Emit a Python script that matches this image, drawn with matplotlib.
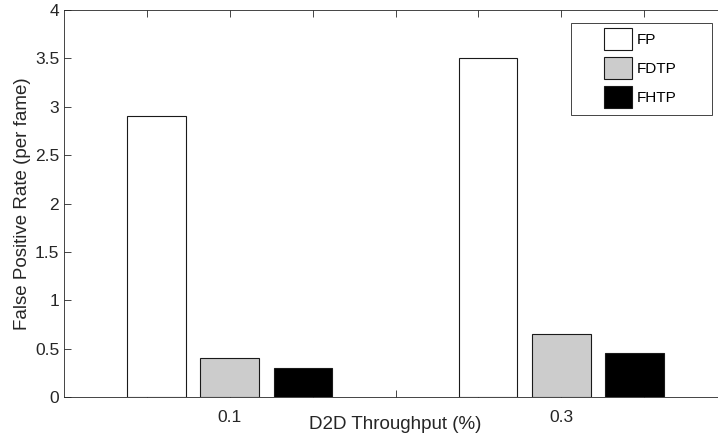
import matplotlib
matplotlib.use("Agg")
import matplotlib.pyplot as plt
from matplotlib.patches import Rectangle
import numpy as np

plt.rcParams['font.family'] = ['Liberation Sans', 'DejaVu Sans']

# data
throughput = [0.1, 0.3]
fp = [2.9, 3.5]
fdtp = [0.4, 0.65]
fhtp = [0.3, 0.45]
series_names = ["FP", "FDTP", "FHTP"]
series_colors = ["white", "#cccccc", "black"]
xtick_pos = [0.05, 0.1, 0.15, 0.2, 0.25, 0.3, 0.35]
xtick_labels = ["", "0.1", "", "", "", "0.3", ""]

W, H = 718, 438
fig = plt.figure(figsize=(W / 100, H / 100), dpi=100)
ax = fig.add_axes([64 / W, 1 - 397 / H, (727 - 64) / W, (397 - 10) / H])

x = np.array(throughput)
bw = 0.0353
step = 0.0443
for k, (vals, c, name) in enumerate(zip([fp, fdtp, fhtp], series_colors, series_names)):
    ax.bar(x + (k - 1) * step, vals, width=bw, color=c, edgecolor="#1a1a1a",
           linewidth=0.8, label=name, zorder=2)

ax.set_xlim(0, 0.4)
ax.set_ylim(0, 4)
ax.set_xticks(xtick_pos)
ax.set_xticklabels(xtick_labels)
ax.set_yticks(np.arange(0, 4.01, 0.5))
ax.set_yticklabels(["0", "0.5", "1", "1.5", "2", "2.5", "3", "3.5", "4"])
ax.tick_params(direction="in", top=True, right=True, length=5, width=0.6,
               labelsize=12.5, colors="#262626")
ax.tick_params(axis="x", pad=9)
ax.tick_params(axis="y", pad=3.5)
for s in ax.spines.values():
    s.set_linewidth(0.6)
    s.set_color("#262626")
    s.set_zorder(3)
ax.set_axisbelow(True)

ax.set_xlabel("D2D Throughput (%)", fontsize=13.5, color="#262626")
ax.xaxis.set_label_coords((395 - 64) / 663, -0.048)
ax.set_ylabel("False Positive Rate (per fame)", fontsize=13.5, color="#262626")
ax.yaxis.set_label_coords(-33 / 663, 0.5)

# legend box (MATLAB style, wide right margin)
box = Rectangle((571 / W, 1 - 115 / H), 141 / W, 92 / H, transform=fig.transFigure,
                facecolor="white", edgecolor="#262626", linewidth=0.6,
                clip_on=False, zorder=4)
ax.add_patch(box)
leg = ax.legend(loc="upper left", bbox_to_anchor=(604 / W, 1 - 28 / H),
                bbox_transform=fig.transFigure, borderaxespad=0, borderpad=0,
                fontsize=11, frameon=False, handlelength=1.8, handleheight=1.84,
                labelspacing=0.46, handletextpad=0.35)
leg.set_zorder(5)

fig.savefig("out.png", dpi=100)
